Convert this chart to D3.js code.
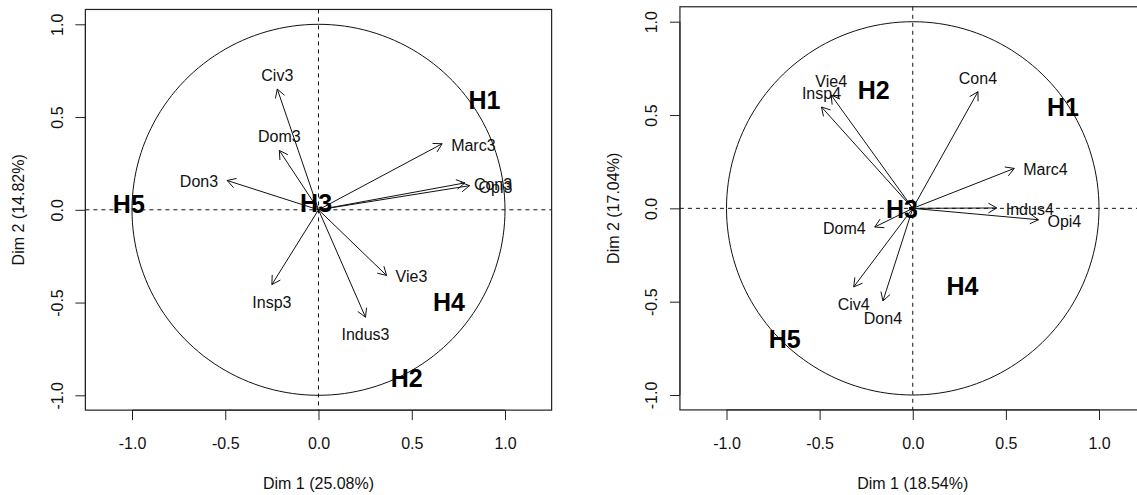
<!DOCTYPE html>
<html>
<head>
<meta charset="utf-8">
<script src="https://cdn.jsdelivr.net/npm/d3@7"></script>
<style>
  html, body { margin: 0; padding: 0; background: #fff; }
  svg { display: block; }
  text { font-family: "Liberation Sans", Arial, sans-serif; fill: #111; }
</style>
</head>
<body>
<svg id="chart" width="1137" height="495"></svg>
<script>
// ---------------- data ----------------
const ticks = [-1.0, -0.5, 0.0, 0.5, 1.0];
const tickLabels = ["-1.0", "-0.5", "0.0", "0.5", "1.0"];

// Panel 3 (left)
const vars3 = ["Civ3", "Dom3", "Don3", "Marc3", "Con3", "Opi3", "Vie3", "Insp3", "Indus3"];
const dim1_3 = [-0.221, -0.21, -0.49, 0.663, 0.785, 0.81, 0.365, -0.25, 0.252];
const dim2_3 = [0.651, 0.32, 0.158, 0.356, 0.145, 0.13, -0.354, -0.403, -0.579];
const groups = ["H1", "H2", "H3", "H4", "H5"];
const hx3 = [0.89, 0.473, -0.013, 0.70, -1.017];
const hy3 = [0.59, -0.906, 0.038, -0.495, 0.032];
const xTitle3 = "Dim 1 (25.08%)";
const yTitle3 = "Dim 2 (14.82%)";

// Panel 4 (right)
const vars4 = ["Con4", "Vie4", "Insp4", "Marc4", "Indus4", "Opi4", "Dom4", "Civ4", "Don4"];
const dim1_4 = [0.35, -0.438, -0.49, 0.545, 0.451, 0.675, -0.204, -0.317, -0.16];
const dim2_4 = [0.625, 0.607, 0.543, 0.214, 0.002, -0.061, -0.1, -0.421, -0.496];
const hx4 = [0.807, -0.21, -0.058, 0.267, -0.687];
const hy4 = [0.543, 0.632, -0.005, -0.416, -0.702];
const xTitle4 = "Dim 1 (18.54%)";
const yTitle4 = "Dim 2 (17.04%)";

// ---------------- drawing ----------------
const svg = d3.select("#chart");

function drawPanel(cfg) {
  const x = d3.scaleLinear().domain([-1, 1]).range(cfg.xr);
  const y = d3.scaleLinear().domain([-1, 1]).range(cfg.yr);
  const xl = 1.25, yl = 1.08;
  const bx0 = x(-xl), bx1 = x(xl), by0 = y(yl), by1 = y(-yl);
  const g = svg.append("g");

  // box
  g.append("rect").attr("x", bx0).attr("y", by0)
    .attr("width", bx1 - bx0).attr("height", by1 - by0)
    .attr("fill", "none").attr("stroke", "#222").attr("stroke-width", 1.2);

  // dashed reference lines
  g.append("line").attr("x1", bx0).attr("x2", bx1).attr("y1", y(0)).attr("y2", y(0))
    .attr("stroke", "#111").attr("stroke-dasharray", "4,4");
  g.append("line").attr("x1", x(0)).attr("x2", x(0)).attr("y1", by0).attr("y2", by1)
    .attr("stroke", "#111").attr("stroke-dasharray", "4,4");

  // unit circle
  const circ = d3.range(0, 361, 2).map(a => [Math.cos(a * Math.PI / 180), Math.sin(a * Math.PI / 180)]);
  g.append("path")
    .attr("d", d3.line().x(d => x(d[0])).y(d => y(d[1]))(circ))
    .attr("fill", "none").attr("stroke", "#111").attr("stroke-width", 1);

  // x axis
  const xAxis = d3.axisBottom(x).tickValues(ticks).tickSize(10).tickPadding(6)
    .tickFormat((d, i) => tickLabels[i]);
  const gx = g.append("g").attr("transform", `translate(0,${by1})`).call(xAxis);
  gx.select(".domain").attr("d", `M${x(-1)},0H${x(1)}`).attr("stroke", "#222");
  gx.selectAll(".tick line").attr("stroke", "#222");
  gx.selectAll(".tick text").attr("font-size", 16).attr("font-family", "Liberation Sans, Arial, sans-serif")
    .attr("fill", "#111").attr("y", 0).attr("dy", 0)
    .attr("transform", `translate(0,${cfg.xLabY - by1}) `).attr("dominant-baseline", "central");

  // y axis
  const yAxis = d3.axisLeft(y).tickValues(ticks).tickSize(10)
    .tickFormat((d, i) => tickLabels[i]);
  const gy = g.append("g").attr("transform", `translate(${bx0},0)`).call(yAxis);
  gy.select(".domain").attr("d", `M0,${y(-1)}V${y(1)}`).attr("stroke", "#222");
  gy.selectAll(".tick line").attr("stroke", "#222");
  gy.selectAll(".tick text").attr("font-size", 16).attr("font-family", "Liberation Sans, Arial, sans-serif")
    .attr("fill", "#111").attr("x", 0).attr("dy", 0)
    .attr("text-anchor", "middle").attr("dominant-baseline", "central")
    .attr("transform", `translate(${cfg.yLabX - bx0},0) rotate(-90)`);

  // axis titles
  g.append("text").attr("x", (bx0 + bx1) / 2).attr("y", cfg.xTitleY)
    .attr("text-anchor", "middle").attr("dominant-baseline", "central")
    .attr("font-size", 16).text(cfg.xTitle);
  g.append("text")
    .attr("transform", `translate(${cfg.yTitleX},${(by0 + by1) / 2}) rotate(-90)`)
    .attr("text-anchor", "middle").attr("dominant-baseline", "central")
    .attr("font-size", 16).text(cfg.yTitle);

  // arrows
  const data = cfg.names.map((n, i) => ({ name: n, d1: cfg.d1[i], d2: cfg.d2[i] }));
  const ag = g.append("g").attr("stroke", "#111").attr("stroke-width", 1).attr("fill", "none");
  const headLen = 9.6, headAng = Math.PI / 6;
  data.forEach(d => {
    const x0 = x(0), y0 = y(0), x1 = x(d.d1), y1 = y(d.d2);
    ag.append("line").attr("x1", x0).attr("y1", y0).attr("x2", x1).attr("y2", y1);
    const th = Math.atan2(y1 - y0, x1 - x0);
    const p1 = [x1 - headLen * Math.cos(th - headAng), y1 - headLen * Math.sin(th - headAng)];
    const p2 = [x1 - headLen * Math.cos(th + headAng), y1 - headLen * Math.sin(th + headAng)];
    ag.append("path").attr("d", `M${p1[0]},${p1[1]}L${x1},${y1}L${p2[0]},${p2[1]}`);
  });

  // arrow labels (R-style pos placement)
  data.forEach(d => {
    const x1 = x(d.d1), y1 = y(d.d2);
    let tx = x1, ty = y1, anchor = "middle";
    if (Math.abs(d.d2) > Math.abs(d.d1)) {
      if (d.d2 > 0) { ty = y1 - 13.5; } else { ty = y1 + 17.5; }
    } else {
      ty = y1 + 1.5;
      if (d.d1 > 0) { tx = x1 + 9; anchor = "start"; } else { tx = x1 - 9; anchor = "end"; }
    }
    g.append("text").attr("x", tx).attr("y", ty)
      .attr("text-anchor", anchor).attr("dominant-baseline", "central")
      .attr("font-size", 16).text(d.name);
  });

  // group labels
  cfg.groups.forEach((n, i) => {
    g.append("text").attr("x", x(cfg.hx[i])).attr("y", y(cfg.hy[i]))
      .attr("text-anchor", "middle").attr("dominant-baseline", "central")
      .attr("font-size", 25).attr("font-weight", "bold").style("fill", "#000").text(n);
  });
}

drawPanel({
  xr: [132, 505], yr: [395.3, 24.3],
  xLabY: 443, xTitleY: 483, yLabX: 57, yTitleX: 18,
  xTitle: xTitle3, yTitle: yTitle3,
  names: vars3, d1: dim1_3, d2: dim2_3,
  groups: groups, hx: hx3, hy: hy3
});

drawPanel({
  xr: [726.5, 1099], yr: [395, 21.7],
  xLabY: 443, xTitleY: 483, yLabX: 651, yTitleX: 613,
  xTitle: xTitle4, yTitle: yTitle4,
  names: vars4, d1: dim1_4, d2: dim2_4,
  groups: groups, hx: hx4, hy: hy4
});
</script>
</body>
</html>
